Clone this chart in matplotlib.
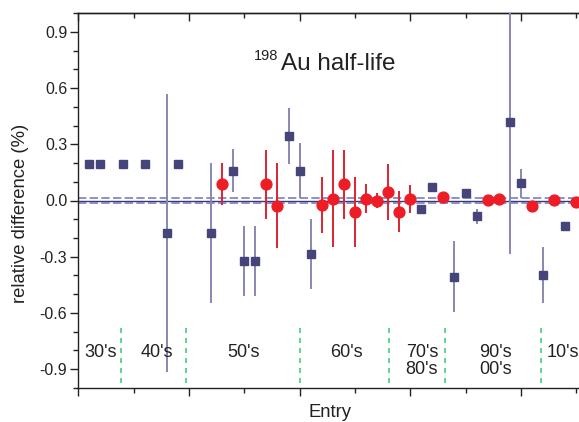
import numpy as np
import matplotlib
matplotlib.use('Agg')
import matplotlib.pyplot as plt
from matplotlib.ticker import MultipleLocator, FormatStrFormatter, NullFormatter

plt.rcParams['font.family'] = ['Liberation Sans', 'DejaVu Sans']
plt.rcParams['axes.unicode_minus'] = False

# =============================================================================
# Data
# =============================================================================
# navy squares: entry, relative difference (%), uncertainty
sq_entry = [1, 2, 4, 6, 8, 9, 12, 14, 15, 16, 19, 20, 21,
            31, 32, 34, 35, 36, 39, 40, 42, 44]
sq_val   = [0.194, 0.194, 0.194, 0.194, -0.174, 0.194, -0.174, 0.160,
            -0.322, -0.322, 0.345, 0.160, -0.286,
            -0.044, 0.071, -0.406, 0.039, -0.085, 0.420, 0.091, -0.397,
            -0.135]
sq_err   = [0, 0, 0, 0, 0.742, 0, 0.373, 0.113, 0.187, 0.187, 0.150,
            0.145, 0.187,
            0, 0.020, 0.187, 0, 0.040, 0.706, 0.075, 0.150, 0]

# red circles: entry, relative difference (%), uncertainty
rd_entry = [13, 17, 18, 22, 23, 24, 25, 26, 27, 28, 29, 30,
            33, 37, 38, 41, 43, 45]
rd_val   = [0.087, 0.087, -0.027, -0.025, 0.009, 0.087, -0.059, 0.009,
            -0.002, 0.047, -0.060, 0.009,
            0.018, 0.002, 0.007, -0.027, 0.005, -0.009]
rd_err   = [0.113, 0.185, 0.225, 0.150, 0.260, 0.185, 0.187, 0.077,
            0.040, 0.150, 0.110, 0.075,
            0.015, 0.020, 0.020, 0.020, 0.020, 0.010]

# decade separators and labels (one entry per text line)
dec_lines  = [3.85, 9.75, 20.0, 28.1, 33.1, 41.85]
dec_labels = ["30's", "40's", "50's", "60's", "70's", "80's", "90's", "00's",
              "10's"]
dec_x      = [2.05, 7.1, 14.9, 24.2, 31.05, 31.05, 37.7, 37.7, 42.35]
dec_y      = [-0.811, -0.811, -0.811, -0.811, -0.811, -0.904, -0.811, -0.904,
              -0.811]

band = 0.013   # dashed band around zero

# =============================================================================
# Figure
# =============================================================================
W, H = 579, 422
fig = plt.figure(figsize=(W / 100, H / 100), dpi=100)
ax = fig.add_axes([78.3 / W, 1 - 387.7 / H, 503.4 / W, 374.4 / H])

navy = '#45457a'
ink  = '#222222'
ax.axhline(0, color='#3a3a6e', lw=1.0, zorder=1)
for s in (-band, band):
    ax.axhline(s, color='#7b7bc4', lw=1.2, ls=(0, (5, 2)), zorder=1)

for xv in dec_lines:
    ax.plot([xv, xv], [-0.68, -1.0], color='#3fcf7f', lw=1.2,
            ls=(0, (3, 3)), zorder=1)

ax.errorbar(sq_entry, sq_val, yerr=sq_err, fmt='s', ms=5.3, color=navy,
            mec=navy, ecolor='#8787b0', elinewidth=1.4, capsize=0, zorder=3)
ax.errorbar(rd_entry, rd_val, yerr=rd_err, fmt='o', ms=7.8, color='#ee1c24',
            mec='#ee1c24', ecolor='#dd2230', elinewidth=1.4, capsize=0,
            zorder=4)

for lab, xv, yv in zip(dec_labels, dec_x, dec_y):
    ha = 'left' if lab == "10's" else 'center'
    ax.text(xv, yv, lab, ha=ha, va='center', fontsize=13, color=ink)

ax.set_xlim(0, 45.5)
ax.set_ylim(-1.0, 1.0)

ax.xaxis.set_major_locator(MultipleLocator(10))
ax.xaxis.set_minor_locator(MultipleLocator(5))
ax.xaxis.set_major_formatter(NullFormatter())
ax.yaxis.set_major_locator(MultipleLocator(0.3))
ax.yaxis.set_minor_locator(MultipleLocator(0.1))
ax.yaxis.set_major_formatter(FormatStrFormatter('%.1f'))

ax.tick_params(axis='both', which='major', length=6, width=1.0,
               labelsize=11.5, colors=ink, pad=2)
ax.tick_params(axis='both', which='minor', length=3.5, width=1.0,
               colors=ink)

# top axis: ticks pointing inward, no labels
top = ax.secondary_xaxis('top')
top.xaxis.set_major_locator(MultipleLocator(10))
top.xaxis.set_minor_locator(MultipleLocator(5))
top.xaxis.set_major_formatter(NullFormatter())
top.tick_params(which='major', direction='in', length=6, width=1.0,
                colors=ink)
top.tick_params(which='minor', direction='in', length=3.5, width=1.0,
                colors=ink)
top.spines['top'].set_linewidth(1.0)
top.spines['top'].set_color(ink)

for side in ('left', 'bottom', 'top'):
    ax.spines[side].set_linewidth(1.0)
    ax.spines[side].set_color(ink)
ax.spines['right'].set_visible(False)

# title with superscript mass number
ax.text(18.1, 0.751, '198', ha='right', va='baseline', fontsize=10.5,
        color=ink)
ax.text(18.3, 0.698, 'Au half-life', ha='left', va='baseline', fontsize=17.5,
        color=ink)

fig.text(21 / W, 1 - 213 / H, 'relative difference (%)', rotation=90,
         ha='center', va='center', fontsize=13.3, color=ink)
fig.text(330 / W, 5 / H, 'Entry', ha='center', va='baseline', fontsize=13.3,
         color=ink)

fig.savefig('out.png', dpi=100)
